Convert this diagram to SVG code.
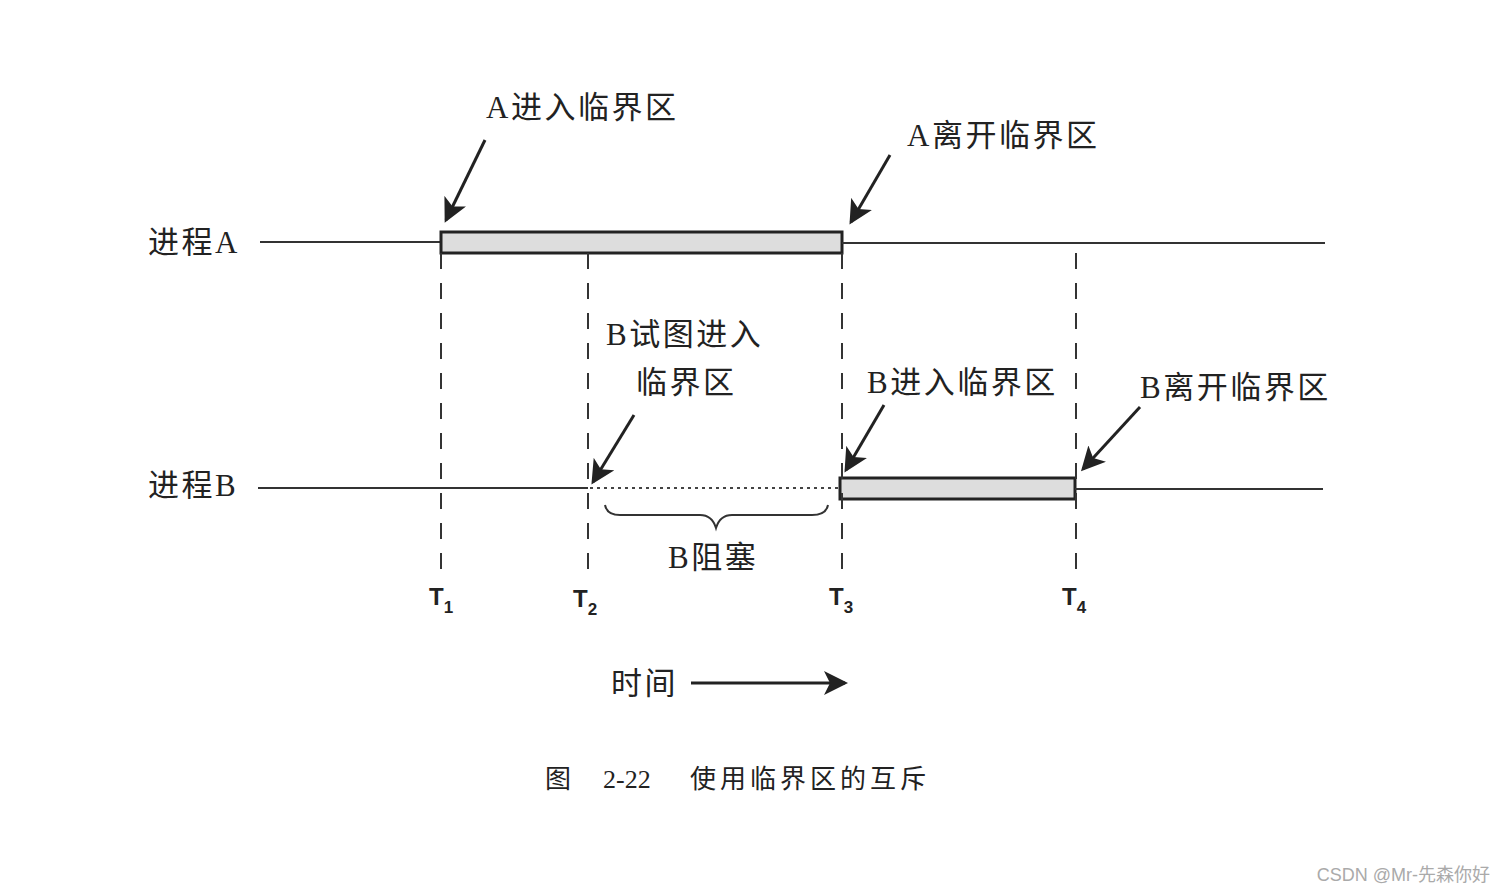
<svg xmlns="http://www.w3.org/2000/svg" width="1506" height="892" viewBox="0 0 1506 892">
<style>
.t{font-family:"Liberation Serif","Noto Sans CJK SC",serif;font-size:31px;fill:#222;letter-spacing:2.5px}
.tl{font-family:"Liberation Sans",sans-serif;font-size:24px;font-weight:bold;fill:#222}
.sub{font-size:17px}
.cap{font-family:"Liberation Serif","Noto Sans CJK SC",serif;font-size:26px;fill:#222}
.ln{stroke:#333;stroke-width:2;fill:none}
.dash{stroke:#333;stroke-width:2;stroke-dasharray:16,14;fill:none}
.bar{fill:#ddd;stroke:#222;stroke-width:3}
.arr{stroke:#222;stroke-width:3;fill:none;marker-end:url(#ah)}
</style>
<defs>
<marker id="ah" markerWidth="8" markerHeight="8" refX="7" refY="4" orient="auto" markerUnits="strokeWidth">
<path d="M0,0 L8,4 L0,8 L2,4 Z" fill="#222"/>
</marker>
</defs>
<rect width="1506" height="892" fill="#fff"/>
<g id="processA">
<line class="ln" x1="260" y1="242" x2="441" y2="242"/>
<rect class="bar" x="441" y="232" width="401" height="21"/>
<line class="ln" x1="842" y1="243" x2="1325" y2="243"/>
<text class="t" x="148" y="253">进程A</text>
</g>
<g id="processB">
<line class="ln" x1="258" y1="488" x2="588" y2="488"/>
<line x1="590" y1="488" x2="840" y2="488" stroke="#444" stroke-width="2" stroke-dasharray="3,4"/>
<rect class="bar" x="840" y="478" width="235" height="21"/>
<line class="ln" x1="1075" y1="489" x2="1323" y2="489"/>
<text class="t" x="148" y="496">进程B</text>
</g>
<g id="timelines">
<line class="dash" x1="441" y1="253" x2="441" y2="580"/>
<line class="dash" x1="588" y1="253" x2="588" y2="580"/>
<line class="dash" x1="842" y1="253" x2="842" y2="580"/>
<line class="dash" x1="1076" y1="253" x2="1076" y2="580"/>
<text class="tl" x="429" y="605">T<tspan class="sub" dy="8">1</tspan></text>
<text class="tl" x="573" y="607">T<tspan class="sub" dy="8">2</tspan></text>
<text class="tl" x="829" y="605">T<tspan class="sub" dy="8">3</tspan></text>
<text class="tl" x="1062" y="605">T<tspan class="sub" dy="8">4</tspan></text>
</g>
<g id="labels">
<text class="t" x="486" y="118">A进入临界区</text>
<text class="t" x="907" y="146">A离开临界区</text>
<text class="t" x="606" y="345">B试图进入</text>
<text class="t" x="636" y="393">临界区</text>
<text class="t" x="867" y="393">B进入临界区</text>
<text class="t" x="1140" y="398">B离开临界区</text>
<text class="t" x="668" y="568">B阻塞</text>
<text class="t" x="611" y="694">时间</text>
<text class="cap" x="545" y="788">图</text>
<text class="cap" x="603" y="788">2-22</text>
<text class="cap" x="690" y="788" style="letter-spacing:4px">使用临界区的互斥</text>
<text x="1490" y="881" text-anchor="end" style="font-family:'Liberation Sans','Noto Sans CJK SC',sans-serif;font-size:18px;fill:#aaa">CSDN @Mr-先森你好</text>
</g>
<g id="connectors">
<line class="arr" x1="485" y1="140" x2="446" y2="220"/>
<line class="arr" x1="890" y1="155" x2="851" y2="222"/>
<line class="arr" x1="634" y1="415" x2="593" y2="482"/>
<line class="arr" x1="884" y1="405" x2="846" y2="470"/>
<line class="arr" x1="1140" y1="407" x2="1083" y2="469"/>
<line class="arr" x1="691" y1="683" x2="845" y2="683"/>
<path class="ln" d="M605,505 Q607,515 620,515 L700,515 Q712,515 716,528 Q720,515 732,515 L812,515 Q826,515 828,505"/>
</g>
</svg>
